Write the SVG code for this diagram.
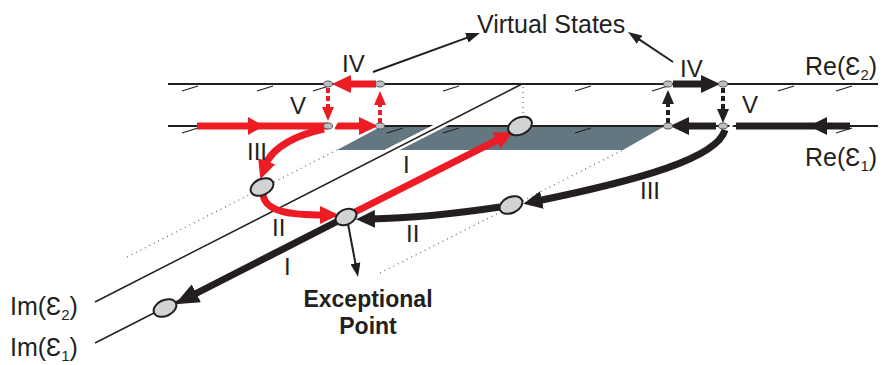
<svg xmlns="http://www.w3.org/2000/svg" width="888" height="365" viewBox="0 0 888 365">
<style>
.ax{stroke:#231f20;stroke-width:1.8;fill:none}
.im{stroke:#231f20;stroke-width:1.5;fill:none}
.tk{stroke:#231f20;stroke-width:1.3;fill:none}
.dot{stroke:#6d6e71;stroke-width:1.3;stroke-dasharray:1 4;fill:none}
.r{stroke:#ed1c24;stroke-width:7;fill:none}
.k{stroke:#231f20;stroke-width:7;fill:none}
.rd{stroke:#ed1c24;stroke-width:4;stroke-dasharray:5 3;fill:none}
.kd{stroke:#231f20;stroke-width:4;stroke-dasharray:5 3;fill:none}
.thin{stroke:#231f20;stroke-width:2;fill:none}
.wh{stroke:#fff;fill:none}
.big{fill:#d1d3d4;stroke:#231f20;stroke-width:2}
.sm{fill:#bcbec0;stroke:#58595b;stroke-width:1}
text{font-family:"Liberation Sans",Arial,"DejaVu Sans",sans-serif;fill:#231f20}
.lab{font-size:25px}
.num{font-size:24px}
.sub{font-size:15px}
.ep{font-size:23px;font-weight:bold}
</style>
<defs>
<marker id="hr" markerUnits="userSpaceOnUse" viewBox="0 0 20 18" markerWidth="20" markerHeight="18" refX="5" refY="9" orient="auto"><path d="M0,0 L19,9 L0,18 Z" fill="#ed1c24"/></marker>
<marker id="hk" markerUnits="userSpaceOnUse" viewBox="0 0 20 18" markerWidth="20" markerHeight="18" refX="5" refY="9" orient="auto"><path d="M0,0 L19,9 L0,18 Z" fill="#231f20"/></marker>
<marker id="hkb" markerUnits="userSpaceOnUse" viewBox="0 0 24 20" markerWidth="24" markerHeight="20" refX="6" refY="10" orient="auto"><path d="M0,0 L24,10 L0,20 Z" fill="#231f20"/></marker>
<marker id="hrs" markerUnits="userSpaceOnUse" viewBox="0 0 14 12" markerWidth="14" markerHeight="12" refX="3" refY="6" orient="auto"><path d="M0,0 L14,6 L0,12 Z" fill="#ed1c24"/></marker>
<marker id="hks" markerUnits="userSpaceOnUse" viewBox="0 0 14 12" markerWidth="14" markerHeight="12" refX="3" refY="6" orient="auto"><path d="M0,0 L14,6 L0,12 Z" fill="#231f20"/></marker>
<marker id="ht" markerUnits="userSpaceOnUse" viewBox="0 0 14 10" markerWidth="14" markerHeight="10" refX="2" refY="5" orient="auto"><path d="M0,0 L14,5 L0,10 Z" fill="#231f20"/></marker>
</defs>

<g id="plane">
<polygon points="382,126 665,126 623,150 337,150" fill="#627780"/>
</g>

<g id="guides">
<path class="dot" d="M127 257 L337 150"/>
<path class="dot" d="M380 273 L623 150"/>
<path class="dot" d="M523 87 V119"/>
</g>

<g id="axes">
<path class="ax" d="M168 84 H878"/>
<path class="ax" d="M168 126 H878"/>
<g class="tk">
<path d="M182 91 l16 -5"/><path d="M257 91 l16 -5"/><path d="M313 91 l16 -5"/><path d="M443 91 l16 -5"/><path d="M575 91 l16 -5"/><path d="M652 91 l16 -5"/><path d="M778 91 l16 -5"/><path d="M836 91 l16 -5"/>
<path d="M182 133 l16 -5"/><path d="M387 133 l16 -5"/><path d="M443 133 l16 -5"/><path d="M575 133 l16 -5"/><path d="M836 133 l16 -5"/>
</g>
<path class="im" d="M95 343 L508 133"/>
<path class="wh" stroke-width="7" d="M378 157.2 L454 118.3"/>
<path class="im" d="M95 302 L522 84"/>
</g>

<g id="connectors">
<path class="r" d="M197 126 H328"/>
<polygon points="248,117 264,126 248,135" fill="#ed1c24"/>
<path class="r" d="M335 126 H364" marker-end="url(#hr)"/>
<path class="rd" d="M380 123 V102" marker-end="url(#hrs)"/>
<path class="r" d="M376 84 H346" marker-end="url(#hr)"/>
<path class="rd" d="M328 88 V110" marker-end="url(#hrs)"/>
<path class="wh" stroke-width="3" d="M330 133 L337 121"/>
<path class="r" d="M324 129 C300 134 272 146 265 166" marker-end="url(#hr)"/>
<path class="r" d="M263 195 C266 212 290 215 325 215" marker-end="url(#hr)"/>
<path class="r" d="M355 212 L500.6 138.4" marker-end="url(#hr)"/>
<path class="k" d="M673 84 H706" marker-end="url(#hk)"/>
<path class="kd" d="M723 88 V112" marker-end="url(#hks)"/>
<path class="k" d="M850 126 H736"/>
<polygon points="827,117 809,126 827,135" fill="#231f20"/>
<path class="wh" stroke-width="3" d="M727 133 L734 121"/>
<path class="k" d="M716 126 H684" marker-end="url(#hk)"/>
<path class="kd" d="M668 123 V101" marker-end="url(#hks)"/>
<path class="k" d="M725 130 C717 158 640 180 537 201" marker-end="url(#hk)"/>
<path class="k" d="M500 207 C460 213 420 218 370 219" marker-end="url(#hk)"/>
<path class="k" stroke-width="9" d="M338 221 L191 296" marker-end="url(#hkb)"/>
<path class="thin" d="M373 72 L468.7 37.1" marker-end="url(#ht)"/>
<path class="thin" d="M673 62 L638 38.6" marker-end="url(#ht)"/>
<path class="thin" d="M348 224 L355.8 265.2" marker-end="url(#ht)"/>
</g>

<g id="state-im1"><ellipse class="big" cx="165" cy="308" rx="12" ry="8" transform="rotate(-25 165 308)"/></g>
<g id="state-iii-red"><ellipse class="big" cx="262" cy="187" rx="12" ry="8" transform="rotate(-25 262 187)"/></g>
<g id="exceptional-point"><ellipse class="big" cx="346" cy="217" rx="11" ry="7.5" transform="rotate(-25 346 217)"/></g>
<g id="state-iii-black"><ellipse class="big" cx="511" cy="205" rx="12" ry="8" transform="rotate(-25 511 205)"/></g>
<g id="state-re1"><ellipse class="big" cx="520" cy="126" rx="12.5" ry="8.5" transform="rotate(-25 520 126)"/></g>
<g id="virtual-states">
<ellipse class="sm" cx="328" cy="84" rx="4.5" ry="3"/>
<ellipse class="sm" cx="380" cy="84" rx="4.5" ry="3"/>
<ellipse class="sm" cx="328" cy="126" rx="4.5" ry="3"/>
<ellipse class="sm" cx="380" cy="126" rx="4.5" ry="3"/>
<ellipse class="sm" cx="668" cy="84" rx="4.5" ry="3"/>
<ellipse class="sm" cx="723" cy="84" rx="4.5" ry="3"/>
<ellipse class="sm" cx="668" cy="126" rx="4.5" ry="3"/>
<ellipse class="sm" cx="723" cy="126" rx="4.5" ry="3"/>
</g>

<g id="labels">
<text class="lab" x="477" y="33" font-size="24">Virtual States</text>
<text class="lab" x="805" y="75">Re(Ɛ<tspan class="sub" dy="5">2</tspan><tspan dy="-5">)</tspan></text>
<text class="lab" x="805" y="166">Re(Ɛ<tspan class="sub" dy="5">1</tspan><tspan dy="-5">)</tspan></text>
<text class="lab" x="10" y="315">Im(Ɛ<tspan class="sub" dy="5">2</tspan><tspan dy="-5">)</tspan></text>
<text class="lab" x="10" y="356">Im(Ɛ<tspan class="sub" dy="5">1</tspan><tspan dy="-5">)</tspan></text>
<text class="num" x="342" y="72">IV</text>
<text class="num" x="290" y="114">V</text>
<text class="num" x="680" y="77">IV</text>
<text class="num" x="742" y="113">V</text>
<text class="num" x="247" y="160">III</text>
<text class="num" x="403" y="173">I</text>
<text class="num" x="272" y="236">II</text>
<text class="num" x="406" y="242">II</text>
<text class="num" x="284" y="275">I</text>
<text class="num" x="640" y="199">III</text>
<text class="ep" x="368" y="307" text-anchor="middle">Exceptional</text>
<text class="ep" x="368" y="334" text-anchor="middle">Point</text>
</g>
</svg>
